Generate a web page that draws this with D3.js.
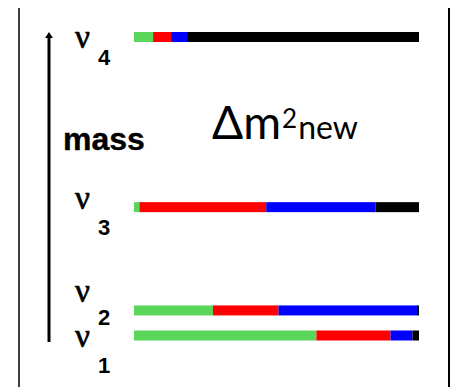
<!DOCTYPE html>
<html>
<head>
<meta charset="utf-8">
<script src="https://cdn.jsdelivr.net/npm/d3@7"></script>
<style>
  html, body { margin: 0; padding: 0; background: #fff; }
  svg { display: block; }
</style>
</head>
<body>
<svg id="chart" width="454" height="387"></svg>
<script>
// Mass eigenstates, bottom to top
const states = ["1", "2", "3", "4"];
// Relative mass level of each eigenstate (arbitrary units)
const massLevels = [0, 8.4, 43, 100];
// Flavour content |U|^2 of each eigenstate
const flavours = ["e", "mu", "tau", "s"];
const eContent   = [0.640, 0.277, 0.019, 0.067];
const muContent  = [0.260, 0.230, 0.445, 0.063];
const tauContent = [0.077, 0.486, 0.383, 0.056];
const sContent   = [0.023, 0.007, 0.153, 0.814];

const flavourColors = ["#5ad65a", "#ff0000", "#0000ff", "#000000"];

const rows = states.map((s, i) => ({
  state: s,
  mass: massLevels[i],
  e: eContent[i], mu: muContent[i], tau: tauContent[i], s: sContent[i]
}));

const svg = d3.select("#chart");

const x = d3.scaleLinear().domain([0, 1]).range([134, 419]);
const y = d3.scaleLinear().domain([0, 100]).range([335.5, 37]);
const color = d3.scaleOrdinal().domain(flavours).range(flavourColors);
const barH = 10;

// Frame lines at left and right
svg.append("line").attr("x1", 19).attr("x2", 19).attr("y1", 8).attr("y2", 387)
  .attr("stroke", "#000").attr("stroke-width", 1.5);
svg.append("line").attr("x1", 449).attr("x2", 449).attr("y1", 8).attr("y2", 387)
  .attr("stroke", "#000").attr("stroke-width", 2);

// Stacked flavour bars
const stacked = d3.stack().keys(flavours)(rows);
svg.append("g").selectAll("g").data(stacked).join("g")
  .attr("fill", d => color(d.key))
  .selectAll("rect").data(d => d).join("rect")
  .attr("x", d => x(d[0]))
  .attr("width", d => Math.max(0, x(d[1]) - x(d[0])))
  .attr("y", d => y(d.data.mass) - barH / 2)
  .attr("height", barH);

// Mass arrow
svg.append("line").attr("x1", 49).attr("x2", 49).attr("y1", 342).attr("y2", 36)
  .attr("stroke", "#000").attr("stroke-width", 3);
svg.append("path").attr("d", "M49,32 L53,38 L45,38 Z").attr("fill", "#000");

svg.append("text").attr("x", 63).attr("y", 150)
  .attr("font-family", "Liberation Sans, Arial, sans-serif")
  .attr("font-weight", "bold").attr("font-size", 32)
  .attr("stroke", "#000").attr("stroke-width", 0.4)
  .text("mass");

// Eigenstate labels: nu with subscript index
const nuTop = [332, 287, 194, 33];
const subBase = [373, 325, 235, 65];
const labels = svg.append("g").selectAll("g").data(rows).join("g");
labels.append("text")
  .attr("x", 75)
  .attr("y", (d, i) => nuTop[i] + 15)
  .attr("font-family", "Liberation Serif, Times New Roman, serif")
  .attr("font-size", 33)
  .attr("stroke", "#000").attr("stroke-width", 0.7)
  .text("\u03bd");
labels.append("text")
  .attr("x", 98)
  .attr("y", (d, i) => subBase[i])
  .attr("font-family", "Liberation Sans, Arial, sans-serif")
  .attr("font-weight", "bold").attr("font-size", 22)
  .text(d => d.state);

// New mass splitting annotation
const ann = svg.append("text").attr("x", 212).attr("y", 139)
  .attr("font-family", "Lato, Open Sans, sans-serif")
  .attr("fill", "#000");
ann.append("tspan").attr("font-size", 46).text("\u0394m");
ann.append("tspan").attr("font-size", 26).attr("dy", -11).attr("dx", 1).text("2");
ann.append("tspan").attr("font-size", 32).attr("dy", 11).attr("dx", 1).text("new");
</script>
</body>
</html>
